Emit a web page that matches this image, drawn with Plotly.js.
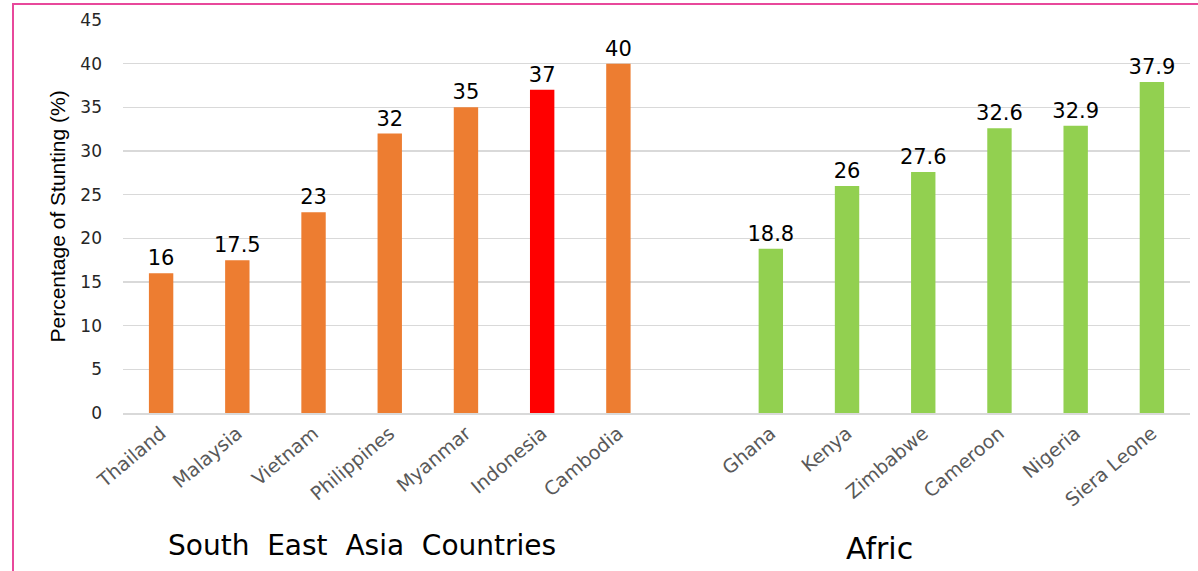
<!DOCTYPE html>
<html>
<head>
<meta charset="utf-8">
<script src="https://cdn.plot.ly/plotly-3.0.1.min.js"></script>
<style>
  html, body { margin: 0; padding: 0; background: #fff; }
  #wrap { position: relative; width: 1198px; height: 571px; }
  #chart { position: absolute; left: 0; top: 0; width: 1198px; height: 571px; }
  #frame { position: absolute; left: 12px; top: 3px; width: 1190px; height: 600px;
           border-top: 2px solid #E8489B; border-left: 2px solid #E8489B; pointer-events: none; }
</style>
</head>
<body>
<div id="wrap">
  <div id="chart"></div>
  <div id="frame"></div>
</div>
<script>
// Data
const seaCountries = ["Thailand", "Malaysia", "Vietnam", "Philippines", "Myanmar", "Indonesia", "Cambodia"];
const seaValues = [16, 17.5, 23, 32, 35, 37, 40];
const seaColors = ["#ED7D31", "#ED7D31", "#ED7D31", "#ED7D31", "#ED7D31", "#FF0000", "#ED7D31"];
const africaCountries = ["Ghana", "Kenya", "Zimbabwe", "Cameroon", "Nigeria", "Siera Leone"];
const africaValues = [18.8, 26, 27.6, 32.6, 32.9, 37.9];
const africaColor = "#92D050";
const groupLabels = ["South \u00A0East \u00A0Asia \u00A0Countries", "Afric"];
const yTitle = "Percentage of Stunting (%)";
const yTicks = [0, 5, 10, 15, 20, 25, 30, 35, 40, 45];

// positions: SEA 0..6, empty slot 7, Africa 8..13
const seaX = seaCountries.map((_, i) => i);
const afX = africaCountries.map((_, i) => i + seaCountries.length + 1);

const textFont = { family: "DejaVu Sans, Verdana, sans-serif", size: 21, color: "#000000" };

const traces = [
  {
    type: "bar", x: seaX, y: seaValues, width: 0.32,
    marker: { color: seaColors },
    text: seaValues.map(String), textposition: "outside", cliponaxis: false,
    constraintext: "none",
    textfont: textFont, hoverinfo: "x+y", showlegend: false
  },
  {
    type: "bar", x: afX, y: africaValues, width: 0.32,
    marker: { color: africaColor },
    text: africaValues.map(String), textposition: "outside", cliponaxis: false,
    constraintext: "none",
    textfont: textFont, hoverinfo: "x+y", showlegend: false
  }
];

const plotL = 123, plotR = 1190, W = 1198;
const plotW = plotR - plotL;
function px2paper(px) { return (px - plotL) / plotW; }

const layout = {
  width: 1198, height: 571,
  margin: { l: plotL, r: W - plotR, t: 20, b: 158 },
  paper_bgcolor: "#ffffff", plot_bgcolor: "#ffffff",
  bargap: 0.68,
  xaxis: {
    range: [-0.5, 13.5],
    tickmode: "array",
    tickvals: seaX.concat(afX),
    ticktext: seaCountries.concat(africaCountries),
    tickangle: -40,
    tickfont: { family: "DejaVu Sans, Verdana, sans-serif", size: 19, color: "#595959" },
    showgrid: false, zeroline: false,
    showline: true, linecolor: "#D9D9D9", linewidth: 2,
    ticks: "", fixedrange: true
  },
  yaxis: {
    range: [0, 45],
    tickvals: yTicks,
    tickfont: { family: "DejaVu Sans, Verdana, sans-serif", size: 17, color: "#262626" },
    showgrid: true, gridcolor: "#D9D9D9", gridwidth: 1.5,
    zeroline: false, showline: false, ticks: "",
    ticklabelstandoff: 20, fixedrange: true
  },
  annotations: [
    {
      text: yTitle, textangle: -90, showarrow: false,
      xref: "paper", yref: "paper", x: px2paper(57), y: 0.5,
      xanchor: "center", yanchor: "middle",
      font: { family: "Liberation Sans Narrow, Arial Narrow, sans-serif", size: 21, color: "#000000" }
    },
    {
      text: groupLabels[0], showarrow: false,
      xref: "paper", yref: "paper", x: px2paper(362), y: -(545 - 413) / 393,
      xanchor: "center", yanchor: "middle",
      font: { family: "DejaVu Sans, Verdana, sans-serif", size: 28, color: "#000000" }
    },
    {
      text: groupLabels[1], showarrow: false,
      xref: "paper", yref: "paper", x: px2paper(879), y: -(548 - 413) / 393,
      xanchor: "center", yanchor: "middle",
      font: { family: "DejaVu Sans, Verdana, sans-serif", size: 30, color: "#000000" }
    }
  ]
};

Plotly.newPlot("chart", traces, layout, { displayModeBar: false, staticPlot: true });
</script>
</body>
</html>
